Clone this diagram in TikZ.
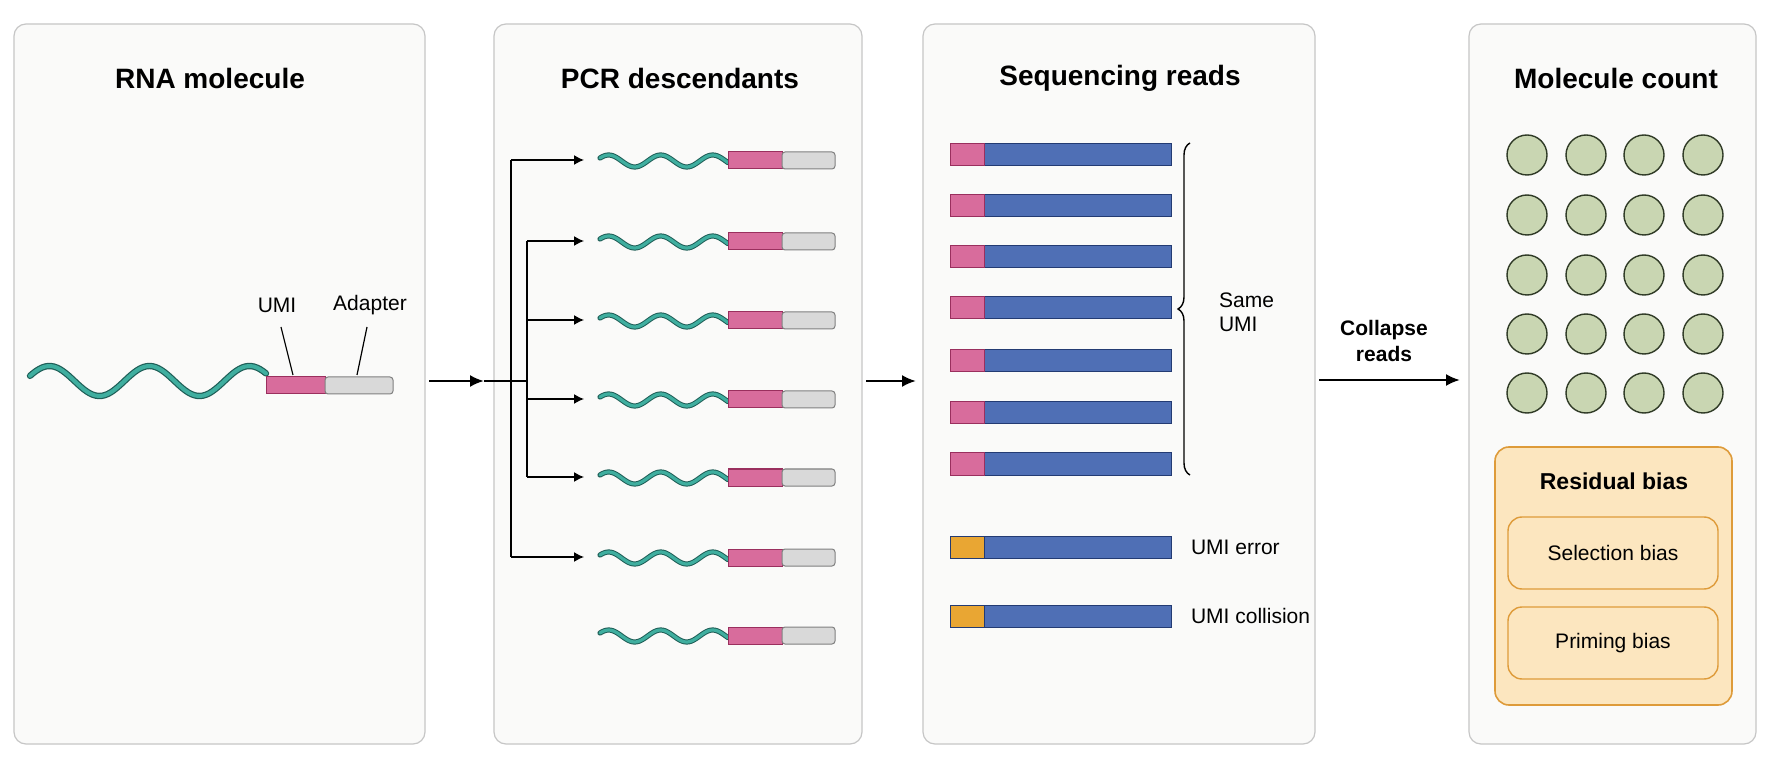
\documentclass[tikz,border=0pt]{standalone}
\usepackage{fontspec}
\setmainfont{Liberation Sans}
\usetikzlibrary{arrows.meta, positioning, calc, decorations.pathreplacing}
\definecolor{paneledge}{HTML}{C6C6C6}
\definecolor{panelfill}{HTML}{FAFAF9}
\definecolor{rnateal}{HTML}{3FAE9F}
\definecolor{rnadark}{HTML}{1E5E57}
\definecolor{umipink}{HTML}{D86C9C}
\definecolor{umiedge}{HTML}{9A2F5E}
\definecolor{adaptgrey}{HTML}{D9D9D9}
\definecolor{readblue}{HTML}{4F6FB5}
\definecolor{readedge}{HTML}{233B73}
\definecolor{errorange}{HTML}{E9A633}
\definecolor{molgreen}{HTML}{C9D6B2}
\definecolor{moledge}{HTML}{2F3A26}
\definecolor{biasfill}{HTML}{FCE6BF}
\definecolor{biasedge}{HTML}{DE9B3A}

\tikzset{
  panel/.style={draw=paneledge, fill=panelfill, line width=0.6pt, rounded corners=6pt},
  title/.style={font=\fontsize{14}{14}\selectfont\bfseries},
  lbl/.style={font=\fontsize{10.5}{12}\selectfont, align=left},
  umi/.style={draw=umiedge, fill=umipink, line width=0.5pt},
  adapter/.style={draw=gray, fill=adaptgrey, line width=0.5pt, rounded corners=1.5pt},
  read/.style={draw=readedge, fill=readblue, line width=0.5pt},
  mol/.style={circle, draw=moledge, fill=molgreen, line width=0.7pt, minimum size=20pt, inner sep=0pt},
  flow/.style={-{Latex[length=7pt,width=6pt]}, line width=1.1pt},
  branch/.style={-{Latex[length=5pt,width=5pt]}, line width=0.7pt},
}

\begin{document}
\begin{tikzpicture}[x=0.5pt, y=-0.5pt]
  \fill[white] (0,0) rectangle (1774,770);
  \useasboundingbox (0,0) rectangle (1774,770);

  % Panels
  \draw[panel] (14,24) rectangle (425,744);
  \draw[panel] (494,24) rectangle (862,744);
  \draw[panel] (923,24) rectangle (1315,744);
  \draw[panel] (1469,24) rectangle (1756,744);
  \node[title] (t1) at (210,78) {RNA molecule};
  \node[title] (t2) at (680,78) {PCR descendants};
  \node[title] (t3) at (1120,78) {Sequencing reads};
  \node[title] (t4) at (1616,78) {Molecule count};

  % RNA molecule with UMI and adapter
  \draw[rnadark, line width=3.2pt, line cap=round] plot[domain=0:236, samples=80] ({30+\x}, {381-15*sin(3.6*\x+20)});
  \draw[rnateal, line width=2pt, line cap=round] plot[domain=0:236, samples=80] ({30+\x}, {381-15*sin(3.6*\x+20)});
  \draw[umi] (266,377) rectangle (325,394);
  \draw[adapter] (325,377) rectangle (393,394);
  \node[lbl] (umilbl) at (277,305) {UMI};
  \node[lbl] (adlbl) at (370,305) {Adapter};
  \draw[line width=0.6pt] (281,327) -- (293,375);
  \draw[line width=0.6pt] (367,327) -- (357,375);

  % Arrow into PCR
  \coordinate (a1s) at (429,381);
  \coordinate (a1e) at (484,381);
  \draw[flow] (a1s) -- (a1e);

  % Branching tree
  \coordinate (hub) at (527,381);
  \draw[line width=0.7pt] (a1e) -- (hub);
  \draw[line width=0.7pt] (511,160) -- (511,557);
  \draw[line width=0.7pt] (527,241) -- (527,477);
  \foreach \y/\bx in {160/511, 241/527, 320/527, 399/527, 477/527, 557/511} {
    \draw[branch] (\bx,\y) -- (584,\y);
  }

  % PCR copies
  \foreach \y [count=\i] in {160, 241, 320, 399, 477, 557, 635} {
    \draw[rnadark, line width=2.6pt, line cap=round] plot[domain=0:128, samples=60] ({600+\x}, {\y+1-6*sin(6.92*\x+30)});
    \draw[rnateal, line width=1.6pt, line cap=round] plot[domain=0:128, samples=60] ({600+\x}, {\y+1-6*sin(6.92*\x+30)});
    \draw[umi] (728,\y-8) rectangle (782,\y+9);
    \draw[adapter] (782,\y-8) rectangle (835,\y+9);
  }

  % Arrow into reads
  \coordinate (a2s) at (866,381);
  \coordinate (a2e) at (916,381);
  \draw[flow] (a2s) -- (a2e);

  % Reads with shared UMI
  \foreach \y in {155, 206, 257, 308, 361, 413, 464} {
    \draw[read] (984,\y-11) rectangle (1171,\y+11);
    \draw[umi] (950,\y-11) rectangle (984,\y+11);
  }
  \draw[decorate, decoration={brace, amplitude=6pt, mirror}, line width=0.7pt] (1190,143) -- (1190,475);
  \node[lbl, anchor=west] (same) at (1212,312) {Same\\UMI};

  % Error reads
  \foreach \y/\txt in {547/UMI error, 616/UMI collision} {
    \draw[read] (984,\y-11) rectangle (1171,\y+11);
    \draw[draw=readedge, fill=errorange, line width=0.5pt] (950,\y-11) rectangle (984,\y+11);
    \node[lbl, anchor=west] at (1184,\y) {\txt};
  }

  % Collapse arrow
  \coordinate (a3s) at (1319,380);
  \coordinate (a3e) at (1460,380);
  \draw[flow] (a3s) -- (a3e);
  \node[lbl, font=\fontsize{10.5}{13}\selectfont\bfseries, align=center] (collapse) at (1384,341) {Collapse\\reads};

  % Molecule grid
  \foreach \y [count=\r] in {155, 215, 275, 334, 393} {
    \foreach \x [count=\c] in {1527, 1586, 1644, 1703} {
      \node[mol] (m\r\c) at (\x,\y) {};
    }
  }

  % Residual bias box
  \draw[draw=biasedge, fill=biasfill, line width=0.8pt, rounded corners=7pt] (1495,447) rectangle (1732,705);
  \node[font=\fontsize{11.5}{12}\selectfont\bfseries] (resid) at (1614,481) {Residual bias};
  \draw[draw=biasedge, fill=biasfill, line width=0.7pt, rounded corners=7pt] (1508,517) rectangle (1718,589);
  \node[lbl] (sel) at (1613,553) {Selection bias};
  \draw[draw=biasedge, fill=biasfill, line width=0.7pt, rounded corners=7pt] (1508,607) rectangle (1718,679);
  \node[lbl] (prim) at (1613,643) {Priming bias};
\end{tikzpicture}
\end{document}
